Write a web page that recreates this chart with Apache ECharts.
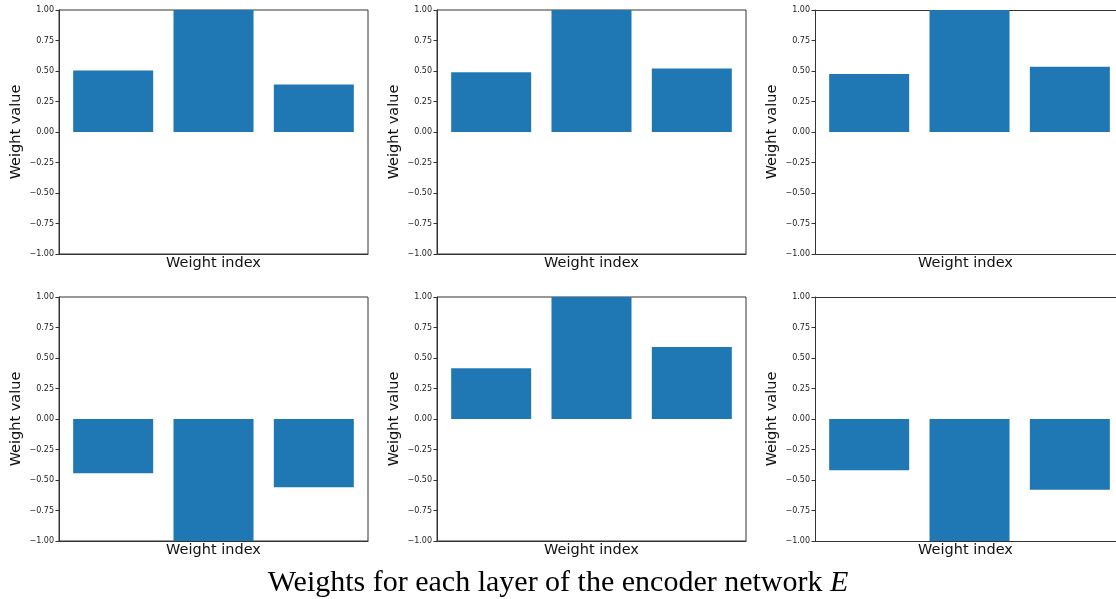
<!DOCTYPE html>
<html>
<head>
<meta charset="utf-8">
<script src="https://cdn.jsdelivr.net/npm/echarts@6/dist/echarts.min.js"></script>
<style>
html, body { margin: 0; padding: 0; background: #fff; }
#chart { width: 1116px; height: 599px; }
</style>
</head>
<body>
<div id="chart"></div>
<script>
// weight index of each bar
var weightIndex = [0, 1, 2];
// weights per encoder layer
var layer1 = [0.505, 1.0, 0.39];
var layer2 = [0.49, 1.0, 0.52];
var layer3 = [0.475, 1.0, 0.535];
var layer4 = [-0.445, -1.0, -0.56];
var layer5 = [0.415, 1.0, 0.59];
var layer6 = [-0.42, -1.0, -0.58];
var yTicks = [-1, -0.75, -0.5, -0.25, 0, 0.25, 0.5, 0.75, 1];

var layers = [layer1, layer2, layer3, layer4, layer5, layer6];
var lefts = [59, 437, 815];
var widths = [309, 309, 301];   // last column runs off the page edge
var xMax = [2.54, 2.54, 2.46];
var tops = [10, 297];

var myChart = echarts.init(document.getElementById('chart'));

var grids = [], xAxes = [], yAxes = [], series = [];
for (var i = 0; i < layers.length; i++) {
    var row = Math.floor(i / 3), col = i % 3;
    var boxed = col < 2;
    grids.push({
        left: lefts[col], top: tops[row], width: widths[col], height: 244,
        show: boxed, borderColor: '#333', borderWidth: 1, backgroundColor: 'transparent'
    });
    xAxes.push({
        type: 'value', gridIndex: i, min: -0.54, max: xMax[col],
        axisLabel: { show: false }, axisTick: { show: false }, splitLine: { show: false },
        axisLine: { show: true, onZero: false, lineStyle: { color: '#333', width: 1 } },
        name: 'Weight index', nameLocation: 'middle', nameGap: 2,
        nameTextStyle: { fontFamily: 'DejaVu Sans', fontSize: 14.5, color: '#111', verticalAlign: 'top' }
    });
    if (!boxed) {
        // top spine only, right spine is off the page
        xAxes.push({
            type: 'value', gridIndex: i, position: 'top', min: -0.54, max: xMax[col],
            axisLabel: { show: false }, axisTick: { show: false }, splitLine: { show: false },
            axisLine: { show: true, onZero: false, lineStyle: { color: '#333', width: 1 } }
        });
    }
    yAxes.push({
        type: 'value', gridIndex: i, min: yTicks[0], max: yTicks[yTicks.length - 1], interval: 0.25,
        splitLine: { show: false },
        axisLine: { show: true, onZero: false, lineStyle: { color: '#333', width: 1 } },
        axisTick: { show: true, length: 3.5, lineStyle: { color: '#333' } },
        axisLabel: {
            fontFamily: 'DejaVu Sans', fontSize: 8, color: '#222', margin: 5,
            formatter: function (v) { return v.toFixed(2).replace('-', '\u2212'); }
        },
        name: 'Weight value', nameLocation: 'middle', nameGap: 35,
        nameTextStyle: { fontFamily: 'DejaVu Sans', fontSize: 14.5, color: '#111' }
    });
}
// bars, one series per panel; x axis index follows the order above
var xi = 0;
for (var j = 0; j < layers.length; j++) {
    series.push({
        type: 'bar', xAxisIndex: xi, yAxisIndex: j, barWidth: 80,
        itemStyle: { color: '#1f77b4' },
        data: weightIndex.map(function (x, k) { return [x, layers[j][k]]; })
    });
    xi += (j % 3 === 2) ? 2 : 1;
}

var option = {
    animation: false,
    title: {
        left: 'center', top: 563,
        text: '{a|Weights for each layer of the encoder network }{b|E}',
        textStyle: {
            rich: {
                a: { fontFamily: 'Liberation Serif', fontSize: 30, fontWeight: 'normal', color: '#000' },
                b: { fontFamily: 'Liberation Serif', fontSize: 30, fontWeight: 'normal', fontStyle: 'italic', color: '#000' }
            }
        }
    },
    grid: grids,
    xAxis: xAxes,
    yAxis: yAxes,
    series: series
};
myChart.setOption(option);
</script>
</body>
</html>
